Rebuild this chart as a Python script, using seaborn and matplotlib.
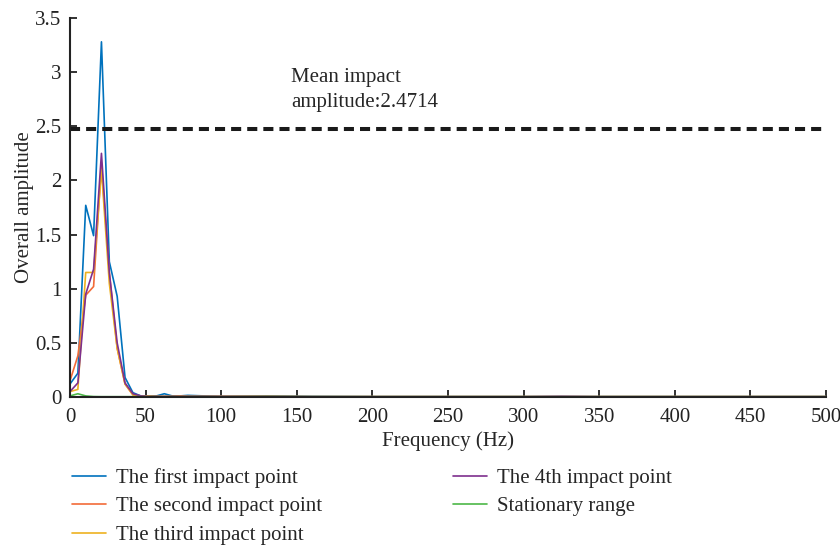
import numpy as np
import pandas as pd
import matplotlib
matplotlib.use("Agg")
import matplotlib.pyplot as plt
import seaborn as sns

# frequency points (Hz)
freq_low = [0, 5.2, 10.4, 15.6, 20.8, 26.0, 31.2, 36.4, 41.6, 46.8, 52.0, 57.2, 62.4, 67.6, 72.8, 78.0]
freq_tail = [100, 130, 160, 200, 250, 300, 325, 350, 400, 450, 500]

first_low = [0.12, 0.22, 1.77, 1.49, 3.28, 1.25, 0.93, 0.18, 0.04, 0.01, 0.01, 0.01, 0.03, 0.01, 0.01, 0.015]
second_low = [0.15, 0.38, 0.94, 1.02, 2.15, 1.15, 0.45, 0.12, 0.02, 0.01, 0.005, 0.005, 0.005, 0.005, 0.01, 0.005]
third_low = [0.05, 0.07, 1.15, 1.15, 2.10, 1.05, 0.45, 0.12, 0.02, 0.005, 0.01, 0.005, 0.005, 0.005, 0.005, 0.005]
fourth_low = [0.05, 0.13, 0.95, 1.18, 2.25, 1.15, 0.50, 0.13, 0.03, 0.01, 0.005, 0.005, 0.005, 0.005, 0.005, 0.005]
stationary_low = [0.01, 0.03, 0.01, 0.004, 0.003, 0.003, 0.003, 0.003, 0.003, 0.003, 0.003, 0.003, 0.003, 0.003, 0.003, 0.003]

first_tail = [0.005, 0.01, 0.005, 0.003, 0.003, 0.003, 0.003, 0.003, 0.003, 0.003, 0.003]
second_tail = [0.005, 0.005, 0.003, 0.003, 0.003, 0.003, 0.003, 0.003, 0.003, 0.003, 0.003]
third_tail = [0.005, 0.005, 0.003, 0.003, 0.003, 0.003, 0.003, 0.003, 0.003, 0.003, 0.003]
fourth_tail = [0.005, 0.003, 0.003, 0.003, 0.003, 0.003, 0.006, 0.003, 0.003, 0.003, 0.003]
stationary_tail = [0.003, 0.003, 0.003, 0.003, 0.003, 0.003, 0.003, 0.003, 0.003, 0.003, 0.003]

series_names = ["The first impact point", "The second impact point", "The third impact point",
                "The 4th impact point", "Stationary range"]
series_values = [first_low + first_tail, second_low + second_tail, third_low + third_tail,
                 fourth_low + fourth_tail, stationary_low + stationary_tail]
colors = ["#0072BD", "#F26B38", "#EDB120", "#7E2F8E", "#4DB848"]

mean_amp = 2.4714
x_ticks = [0, 50, 100, 150, 200, 250, 300, 350, 400, 450, 500]
y_ticks = [0, 0.5, 1, 1.5, 2, 2.5, 3, 3.5]
y_tick_labels = ["0", "0.5", "1", "1.5", "2", "2.5", "3", "3.5"]

freq = freq_low + freq_tail
df = pd.concat([pd.DataFrame({"Frequency": freq, "Amplitude": v, "Series": n})
                for n, v in zip(series_names, series_values)], ignore_index=True)

sns.set_style("ticks")
plt.rcParams["font.family"] = ["Liberation Serif", "DejaVu Serif"]
fs = 15

fig = plt.figure(figsize=(8.4, 5.49), dpi=100)
ax = fig.add_axes([70 / 840, 1 - 397 / 549, 756 / 840, 379 / 549])

sns.lineplot(data=df, x="Frequency", y="Amplitude", hue="Series", hue_order=series_names,
             palette=colors, estimator=None, linewidth=1.2, ax=ax)

ax.axhline(mean_amp, color="#1a1a1a", linewidth=2.9, linestyle=(0, (2.5, 1.5)))
ax.text(146, 2.63, "Mean impact\namplitude:2.4714", fontsize=fs, ha="left", va="bottom",
        linespacing=1.45)

ax.set_xlim(0, 500)
ax.set_ylim(0, 3.5)
ax.set_xticks(x_ticks)
ax.set_yticks(y_ticks)
ax.set_yticklabels(y_tick_labels)
ax.tick_params(direction="in", length=5, width=1.3, labelsize=fs, colors="#222222")
ax.tick_params(axis="x", pad=8)
ax.tick_params(axis="y", pad=6)
ax.set_xlabel("Frequency (Hz)", fontsize=fs, labelpad=3)
ax.set_ylabel("Overall amplitude", fontsize=fs, labelpad=1)
sns.despine(ax=ax)
for s in ["left", "bottom"]:
    ax.spines[s].set_linewidth(1.5)
    ax.spines[s].set_color("#222222")

handles, labels = ax.get_legend_handles_labels()
ax.legend(handles, labels, loc="upper left", bbox_to_anchor=(0.003, -0.188), ncol=2,
          frameon=False, fontsize=fs, handlelength=1.6, columnspacing=6.3,
          labelspacing=0.42, handletextpad=0.5, borderaxespad=0, borderpad=0)

fig.savefig("out.png", dpi=100)
